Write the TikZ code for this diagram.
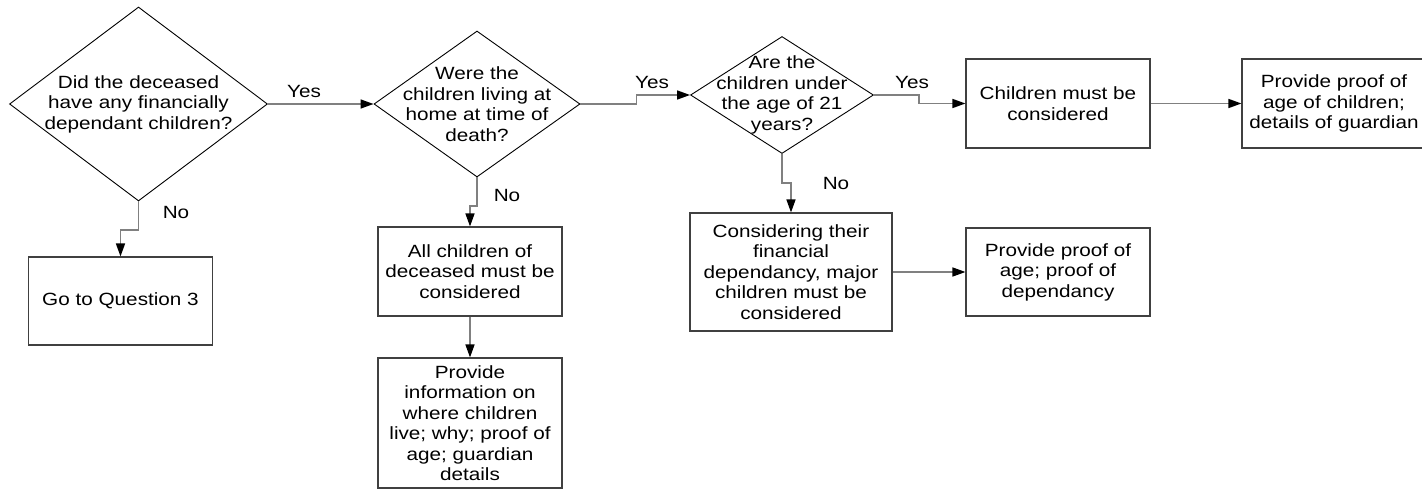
\documentclass[tikz,border=0pt]{standalone}
\usepackage{fontspec}
\setmainfont[FakeStretch=1.17]{Liberation Sans}
\usetikzlibrary{shapes.geometric,arrows.meta}

\begin{document}
\begin{tikzpicture}[x=1pt,y=-1pt,
font=\fontsize{17.7}{20.5}\selectfont,
decision/.style={diamond,draw=black,line width=0.9pt,inner sep=-40pt,align=center},
block/.style={rectangle,draw=black!75,line width=1.1pt,align=center,
minimum width=184pt,minimum height=88pt},
wire/.style={draw=black!50,line width=1.5pt,
-{Triangle[length=13pt,width=9pt,color=black]}},
lbl/.style={inner sep=0pt}]
\useasboundingbox (0,0) rectangle (1422,489);
% questions
\node [decision,minimum width=258pt,minimum height=194pt] (d1) at (138.5,104)
  {Did the deceased\\have any financially\\dependant children?};
\node [decision,minimum width=206pt,minimum height=146pt] (d2) at (477,104)
  {Were the\\children living at\\home at time of\\death?};
\node [decision,minimum width=183pt,minimum height=117pt] (d3) at (782,95)
  {Are the\\children under\\the age of 21\\years?};
% answers
\node [block] (q3) at (120.5,301) {Go to Question 3};
\node [block,minimum height=89pt] (allc) at (470,271.5)
  {All children of\\deceased must be\\considered};
\node [block,minimum height=130pt] (info) at (470,423)
  {Provide\\information on\\where children\\live; why; proof of\\age; guardian\\details};
\node [block,minimum width=202pt,minimum height=118pt] (cons) at (791,272)
  {Considering their\\financial\\dependancy, major\\children must be\\considered};
\node [block] (pdep) at (1058,272) {Provide proof of\\age; proof of\\dependancy};
\node [block,minimum height=89pt] (must) at (1058,103.5) {Children must be\\considered};
\node [block,minimum height=89pt] (page) at (1334,103.5)
  {Provide proof of\\age of children;\\details of guardian};
% labels
\node [lbl] (y1) at (304,92) {Yes};
\node [lbl] (y2) at (652,82) {Yes};
\node [lbl] (y3) at (912,82) {Yes};
\node [lbl] (n1) at (176,212) {No};
\node [lbl] (n2) at (507,195) {No};
\node [lbl] (n3) at (836,183) {No};
% connectors
\draw [wire] (d1.east) -- (d2.west);
\draw [wire] (d2.east) -- ++(56,0) |- (d3.west);
\draw [wire] (d3.east) -- ++(45,0) |- (must.west);
\draw [wire] (must.east) -- (page.west);
\draw [wire] (d1.south) -- ++(0,28.5) -| (q3.north);
\draw [wire] (d2.south) -- ++(0,28.7) -| (allc.north);
\draw [wire] (allc.south) -- (info.north);
\draw [wire] (d3.south) -- ++(0,29) -| (cons.north);
\draw [wire] (cons.east) -- (pdep.west);
\end{tikzpicture}
\end{document}
